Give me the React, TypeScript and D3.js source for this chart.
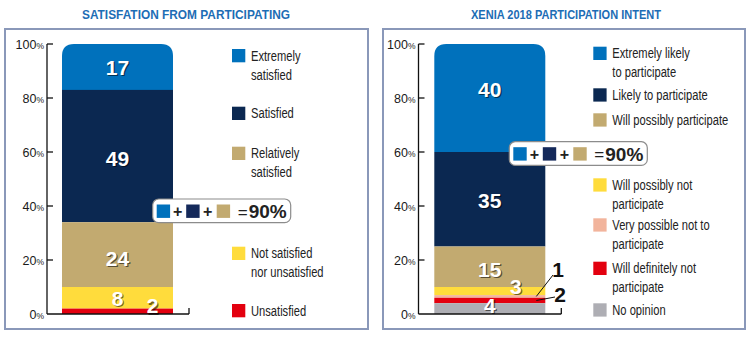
import React from "react";
import * as d3 from "d3";

// ---------- data ----------
const satTitle = "SATISFATION FROM PARTICIPATING";
const satCategories = [
  "Extremely satisfied",
  "Satisfied",
  "Relatively satisfied",
  "Not satisfied nor unsatisfied",
  "Unsatisfied",
];
const satLegendLines = [
  ["Extremely", "satisfied"],
  ["Satisfied"],
  ["Relatively", "satisfied"],
  ["Not satisfied", "nor unsatisfied"],
  ["Unsatisfied"],
];
const satValues = [17, 49, 24, 8, 2];

const intentTitle = "XENIA 2018 PARTICIPATION INTENT";
const intentCategories = [
  "Extremely likely to participate",
  "Likely to participate",
  "Will possibly participate",
  "Will possibly not participate",
  "Very possible not to participate",
  "Will definitely not participate",
  "No opinion",
];
const intentLegendLines = [
  ["Extremely likely", "to participate"],
  ["Likely to participate"],
  ["Will possibly participate"],
  ["Will possibly not", "participate"],
  ["Very possible not to", "participate"],
  ["Will definitely not", "participate"],
  ["No opinion"],
];
const intentValues = [40, 35, 15, 3, 1, 2, 4];

const yTicks = [0, 20, 40, 60, 80, 100];
const calloutText = "90%";

// ---------- styling ----------
const satColors = ["#0071bc", "#0b2851", "#c2aa70", "#ffdc3c", "#e3000f"];
const intentColors = ["#0071bc", "#0b2851", "#c2aa70", "#ffdc3c", "#f2b49c", "#e3000f", "#aeaeb4"];

const SANS = "'Liberation Sans', Arial, sans-serif";
const LEGEND_SCALE = 0.72;

type LabelCfg = { mode: "in" | "out"; dx?: number; dy?: number; lx?: number; ly?: number; ax?: number; ay?: number };

type PanelProps = {
  title: string;
  titleX: number;
  titleLen: number;
  frameX: number;
  frameW: number;
  axisX: number;
  barX0: number;
  barW: number;
  values: number[];
  colors: string[];
  categories: string[];
  legendLines: string[][];
  legendX: number;
  legendTops: number[];
  labelCfg: LabelCfg[];
  calloutX: number;
  calloutY: number;
};

const y = d3.scaleLinear().domain([0, 100]).range([314, 44]);

function Callout({ x, y: cy }: { x: number; y: number }) {
  const sq = 13.4;
  const sy = cy + 5.5;
  return (
    <g>
      <rect x={x} y={cy} width={138} height={23.7} rx={6} fill="#fff" stroke="#8c8c8c" strokeWidth={1.2} />
      <rect x={x + 4} y={sy} width={sq} height={sq} fill={satColors[0]} />
      <text x={x + 25} y={cy + 18} textAnchor="middle" fontFamily={SANS} fontWeight="bold" fontSize={16} fill="#222">+</text>
      <rect x={x + 33.5} y={sy} width={sq} height={sq} fill="#14295a" />
      <text x={x + 55} y={cy + 18} textAnchor="middle" fontFamily={SANS} fontWeight="bold" fontSize={16} fill="#222">+</text>
      <rect x={x + 64} y={sy} width={sq} height={sq} fill={satColors[2]} />
      <text x={x + 85} y={cy + 18.5} fontFamily={SANS} fontSize={17} fill="#222">=</text>
      <text x={x + 96} y={cy + 19} fontFamily={SANS} fontWeight="bold" fontSize={19} fill="#222">{calloutText}</text>
    </g>
  );
}

function Panel(p: PanelProps) {
  const segs = p.values.map((v, i) => {
    const below = d3.sum(p.values.slice(i + 1));
    return { v, i, y0: below, y1: below + v };
  });
  const x0 = p.barX0;
  const x1 = p.barX0 + p.barW;
  const r = 12;
  const topPath = (s: { y0: number; y1: number }) => {
    const t = y(s.y1);
    const b = y(s.y0);
    return `M${x0},${b}L${x0},${t + r}Q${x0},${t} ${x0 + r},${t}L${x1 - r},${t}Q${x1},${t} ${x1},${t + r}L${x1},${b}Z`;
  };
  const baseEnd = x1 + 16;
  return (
    <g>
      <text
        x={p.titleX}
        y={19}
        textAnchor="middle"
        fontFamily={SANS}
        fontWeight="bold"
        fontSize={12}
        fill="#1d6db5"
        textLength={p.titleLen}
        lengthAdjust="spacingAndGlyphs"
      >
        {p.title}
      </text>
      <rect x={p.frameX} y={29} width={p.frameW} height={300} fill="#fff" stroke="#8a98b9" strokeWidth={2} />
      {segs.map((s) =>
        s.i === 0 ? (
          <path key={s.i} d={topPath(s)} fill={p.colors[s.i]} />
        ) : (
          <rect key={s.i} x={x0} y={y(s.y1)} width={p.barW} height={y(s.y0) - y(s.y1)} fill={p.colors[s.i]} />
        )
      )}
      <line x1={p.axisX} x2={p.axisX} y1={y(100)} y2={y(0)} stroke="#111" strokeWidth={1.3} />
      <line x1={p.axisX} x2={baseEnd} y1={y(0)} y2={y(0)} stroke="#111" strokeWidth={1.3} />
      <line x1={baseEnd} x2={baseEnd} y1={y(0)} y2={y(0) - 6} stroke="#111" strokeWidth={1.3} />
      {yTicks.map((t) => (
        <g key={t}>
          {t > 0 && <line x1={p.axisX} x2={p.axisX + 6} y1={y(t)} y2={y(t)} stroke="#111" strokeWidth={1.3} />}
          <text x={p.axisX - 3} y={y(t) + 4.5} textAnchor="end" fontFamily={SANS} fontSize={12.5} fill="#1a1a1a">
            {t}
            <tspan fontSize={8.5}>%</tspan>
          </text>
        </g>
      ))}
      {segs.map((s) => {
        const c = p.labelCfg[s.i];
        const cx = (x0 + x1) / 2 + (c.dx || 0);
        const cy = (y(s.y0) + y(s.y1)) / 2 + 8 + (c.dy || 0);
        if (c.mode === "in") {
          return (
            <g key={s.i} fontFamily={SANS} fontWeight="bold" fontSize={21} textAnchor="middle">
              <text x={cx + 1.2} y={cy + 1.2} fill="#000" opacity={0.55}>{s.v}</text>
              <text x={cx} y={cy} fill="#fff">{s.v}</text>
            </g>
          );
        }
        const my = (y(s.y0) + y(s.y1)) / 2;
        return (
          <g key={s.i}>
            <line x1={c.ax!} y1={c.ay!} x2={x1 - 9} y2={my} stroke="#111" strokeWidth={1} />
            <text x={c.lx} y={c.ly} textAnchor="middle" fontFamily={SANS} fontWeight="bold" fontSize={21} fill="#111">
              {s.v}
            </text>
          </g>
        );
      })}
      {p.categories.map((cat, i) => (
        <g key={cat}>
          <rect x={p.legendX} y={p.legendTops[i]} width={13.3} height={13.3} fill={p.colors[i]} />
          <g transform={`translate(${p.legendX + 19},0) scale(${LEGEND_SCALE},1)`}>
            <text fontFamily={SANS} fontSize={15.5} fill="#222">
              {p.legendLines[i].map((ln, j) => (
                <tspan key={j} x={0} y={p.legendTops[i] + 11.8 + j * 19}>
                  {ln}
                </tspan>
              ))}
            </text>
          </g>
        </g>
      ))}
      <Callout x={p.calloutX} y={p.calloutY} />
    </g>
  );
}

export default function App() {
  return (
    <svg width={751} height={339} style={{ position: "absolute", left: 0, top: 0, background: "#fff" }}>
      <rect width={751} height={339} fill="#fff" />
      <Panel
        title={satTitle}
        titleX={186}
        titleLen={208}
        frameX={5}
        frameW={363}
        axisX={47}
        barX0={62}
        barW={111}
        values={satValues}
        colors={satColors}
        categories={satCategories}
        legendLines={satLegendLines}
        legendX={232}
        legendTops={[49, 106.7, 146.7, 246.7, 304]}
        labelCfg={[
          { mode: "in" },
          { mode: "in", dy: 2 },
          { mode: "in", dy: 3 },
          { mode: "in" },
          { mode: "in", dx: 35, dy: -6 },
        ]}
        calloutX={152.7}
        calloutY={199}
      />
      <Panel
        title={intentTitle}
        titleX={566}
        titleLen={190}
        frameX={383}
        frameW={362}
        axisX={418.5}
        barX0={434.3}
        barW={111}
        values={intentValues}
        colors={intentColors}
        categories={intentCategories}
        legendLines={intentLegendLines}
        legendX={593.3}
        legendTops={[46.7, 88.3, 113.3, 178.3, 218.3, 261.7, 303.3]}
        labelCfg={[
          { mode: "in", dy: -9 },
          { mode: "in", dy: 1 },
          { mode: "in", dy: 2 },
          { mode: "in", dx: 26, dy: -5 },
          { mode: "out", lx: 558, ly: 277, ax: 553, ay: 275 },
          { mode: "out", lx: 560, ly: 302, ax: 555, ay: 297 },
          { mode: "in", dy: -4 },
        ]}
        calloutX={509.3}
        calloutY={141.7}
      />
    </svg>
  );
}
